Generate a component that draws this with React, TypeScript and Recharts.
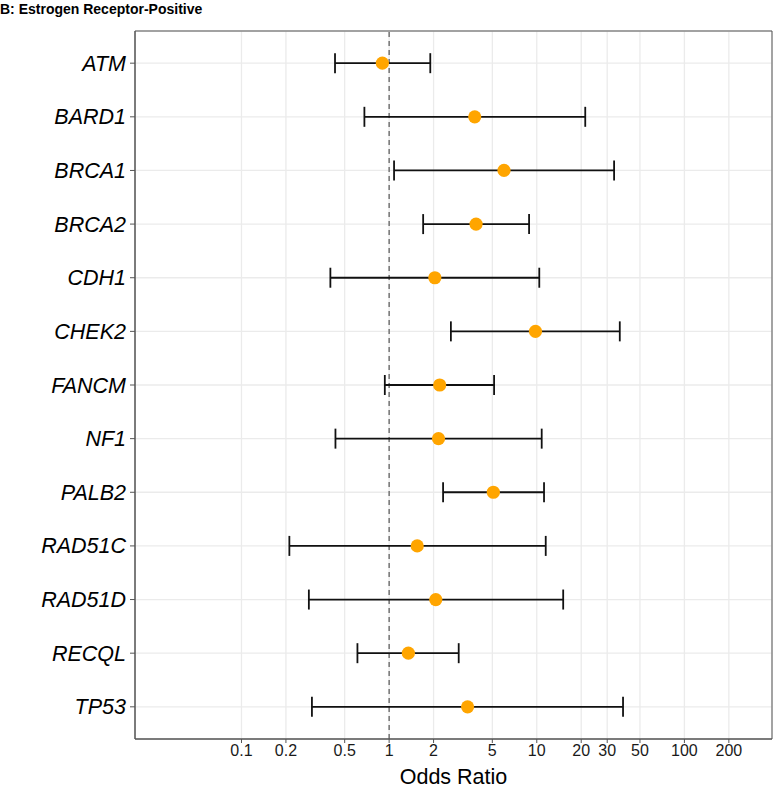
import {
  ScatterChart,
  Scatter,
  XAxis,
  YAxis,
  CartesianGrid,
  ErrorBar,
  ReferenceLine,
  ReferenceArea,
} from 'recharts';

const genes = ['ATM', 'BARD1', 'BRCA1', 'BRCA2', 'CDH1', 'CHEK2', 'FANCM', 'NF1', 'PALB2', 'RAD51C', 'RAD51D', 'RECQL', 'TP53'];
const oddsRatio = [0.9, 3.8, 6.0, 3.88, 2.04, 9.8, 2.2, 2.16, 5.08, 1.55, 2.07, 1.35, 3.4];
const ciLower = [0.43, 0.68, 1.08, 1.7, 0.4, 2.62, 0.935, 0.433, 2.32, 0.211, 0.286, 0.61, 0.3];
const ciUpper = [1.9, 21.3, 33.4, 8.87, 10.4, 36.5, 5.14, 10.8, 11.2, 11.5, 15.1, 2.96, 38.4];
const xTicks = [0.1, 0.2, 0.5, 1, 2, 5, 10, 20, 30, 50, 100, 200];

const X_DOMAIN: [number, number] = [0.019, 392];
const Y_DOMAIN: [number, number] = [0.4, genes.length + 0.6];
const FONT = '"Liberation Sans", Arial, Helvetica, sans-serif';

const data = genes.map((gene, i) => ({
  gene,
  pos: i + 1,
  or: oddsRatio[i],
  err: [oddsRatio[i] - ciLower[i], ciUpper[i] - oddsRatio[i]],
}));

const GeneTick = ({ x, y, payload }: any) => (
  <text x={x} y={y} dy="0.35em" textAnchor="end" fontStyle="italic" fontSize={21.5} fontFamily={FONT} fill="#000">
    {genes[payload.value - 1]}
  </text>
);

const Dot = ({ cx, cy }: any) => <circle cx={cx} cy={cy} r={6.6} fill="#FFA500" />;

export default function App() {
  return (
    <div style={{ position: 'absolute', left: 0, top: 0, width: 773, height: 789, background: '#fff', fontFamily: FONT }}>
      <div style={{ position: 'absolute', left: 0, top: 1, fontSize: 14, fontWeight: 'bold', lineHeight: '16px', color: '#000' }}>
        B: Estrogen Receptor-Positive
      </div>
      <ScatterChart width={773} height={789} margin={{ top: 31, right: 1, bottom: 0, left: 0 }}>
        <CartesianGrid stroke="#EBEBEB" strokeWidth={1.3} />
        <XAxis
          type="number"
          dataKey="or"
          scale="log"
          domain={X_DOMAIN}
          allowDataOverflow
          ticks={xTicks}
          interval={0}
          tickFormatter={(v: number) => String(v)}
          height={50}
          tickSize={4}
          tickMargin={2}
          tick={{ fontSize: 16, fill: '#1a1a1a', fontFamily: FONT }}
          axisLine={{ stroke: '#555' }}
          tickLine={{ stroke: '#555' }}
          label={{ value: 'Odds Ratio', position: 'insideBottom', offset: 5, fontSize: 21.5, fill: '#000', fontFamily: FONT }}
        />
        <YAxis
          type="number"
          dataKey="pos"
          domain={Y_DOMAIN}
          reversed
          ticks={data.map((d) => d.pos)}
          interval={0}
          width={135}
          tickSize={5}
          tickMargin={4}
          tick={<GeneTick />}
          axisLine={{ stroke: '#555' }}
          tickLine={{ stroke: '#555' }}
        />
        <ReferenceLine x={1} stroke="#555" strokeWidth={1.2} strokeDasharray="5 4" />
        <Scatter data={data} shape={<Dot />} isAnimationActive={false}>
          <ErrorBar dataKey="err" direction="x" width={10} stroke="#111" strokeWidth={1.8} />
        </Scatter>
        <ReferenceArea
          x1={X_DOMAIN[0]}
          x2={X_DOMAIN[1]}
          y1={Y_DOMAIN[0]}
          y2={Y_DOMAIN[1]}
          fill="none"
          stroke="#555"
          strokeWidth={1}
          ifOverflow="visible"
        />
      </ScatterChart>
    </div>
  );
}
